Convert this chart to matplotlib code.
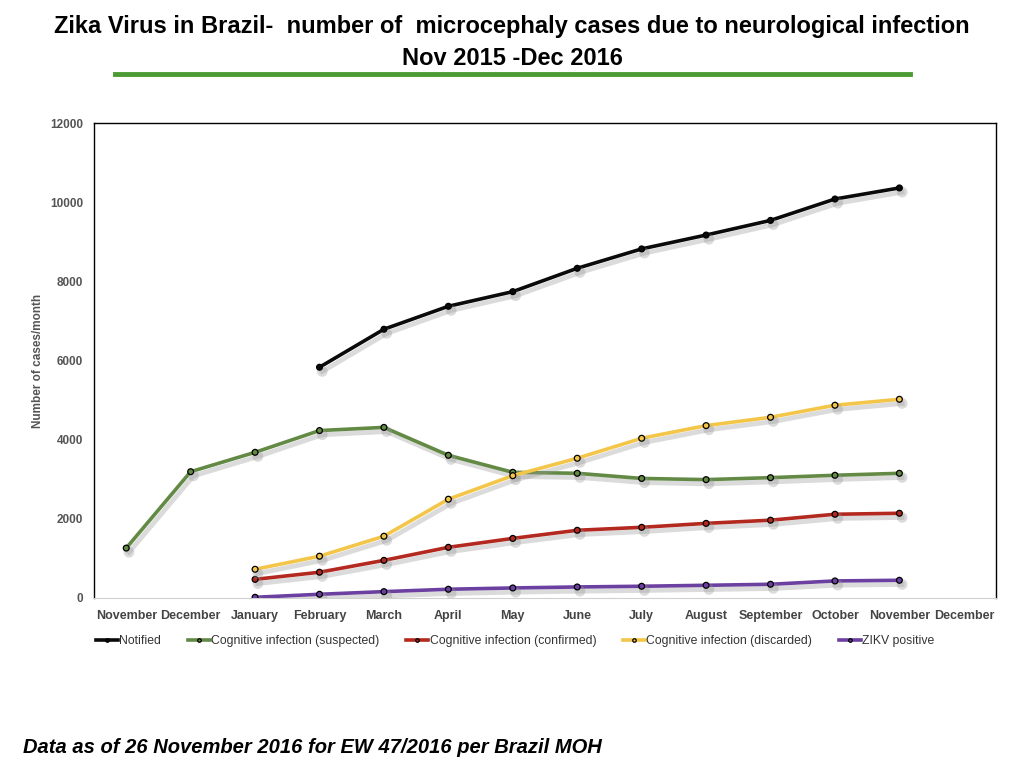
import matplotlib
matplotlib.use("Agg")
import matplotlib.pyplot as plt
import matplotlib.patheffects as pe
import numpy as np

months = ["November", "December", "January", "February", "March", "April", "May",
          "June", "July", "August", "September", "October", "November", "December"]

# values per month, None where the series has no point
notified = [None, None, None, 5830, 6790, 7370, 7740, 8330, 8820, 9170, 9540, 10080, 10360, None]
suspected = [1260, 3190, 3680, 4230, 4310, 3605, 3175, 3150, 3020, 2990, 3040, 3100, 3150, None]
confirmed = [None, None, 470, 650, 950, 1280, 1505, 1710, 1785, 1885, 1965, 2115, 2140, None]
discarded = [None, None, 725, 1055, 1560, 2495, 3090, 3530, 4035, 4355, 4565, 4870, 5020, None]
zikv = [None, None, 17, 93, 160, 220, 253, 278, 296, 320, 346, 430, 447, None]

series = [
    ("Notified", notified, "#0a0a0a"),
    ("Cognitive infection (suspected)", suspected, "#638a45"),
    ("Cognitive infection (confirmed)", confirmed, "#b3291f"),
    ("Cognitive infection (discarded)", discarded, "#f3c64a"),
    ("ZIKV positive", zikv, "#6b40a0"),
]

plt.rcParams["font.family"] = ["Liberation Sans", "DejaVu Sans"]

fig = plt.figure(figsize=(10.24, 7.68), dpi=100)
ax = fig.add_axes([0.0918, 0.2214, 0.8809, 0.6184])

x = np.arange(len(months))
shadow = [pe.SimpleLineShadow(offset=(2, -3), shadow_color="0.6", alpha=0.35, linewidth=3.5),
          pe.Normal()]
for name, vals, col in series:
    y = np.array([np.nan if v is None else v for v in vals], dtype=float)
    ax.plot(x, y, color=col, lw=2.6, marker="o", ms=4.2, mfc=col, mec="black",
            mew=0.9, label=name, path_effects=shadow, zorder=3)

ax.set_xlim(-0.5, 13.5)
ax.set_ylim(0, 12000)
ax.set_yticks(range(0, 12001, 2000))
ax.set_xticks(x)
ax.set_xticklabels(months)
for lab in ax.get_xticklabels():
    lab.set_fontsize(9)
    lab.set_color("#444444")
    lab.set_fontweight("bold")
for lab in ax.get_yticklabels():
    lab.set_fontsize(8.5)
    lab.set_color("#555555")
    lab.set_fontweight("bold")
ax.tick_params(length=0, pad=8)
ax.tick_params(axis="x", pad=9)
ax.set_ylabel("Number of cases/month", fontsize=8.5, color="#555555", labelpad=4,
              fontweight="bold")
for s in ["left", "top", "right"]:
    ax.spines[s].set_color("black")
    ax.spines[s].set_linewidth(1.0)
ax.spines["bottom"].set_color("#d0d0d0")

leg = ax.legend(loc="upper left", bbox_to_anchor=(-0.01, -0.055), ncol=5, frameon=False,
                fontsize=8.8, handlelength=1.8, handletextpad=0.1, columnspacing=2.2,
                markerscale=0.6)
for t in leg.get_texts():
    t.set_color("#333333")
for h in leg.get_lines():
    h.set_path_effects([])

fig.text(0.5, 0.965, "Zika Virus in Brazil-  number of  microcephaly cases due to neurological infection",
         ha="center", va="center", fontsize=17, fontweight="bold")
fig.text(0.5, 0.924, "Nov 2015 -Dec 2016", ha="center", va="center", fontsize=17, fontweight="bold")
fig.add_artist(plt.Line2D([0.112, 0.889], [0.903, 0.903], color="#4c9a33", lw=3.5,
                          transform=fig.transFigure))

fig.text(0.022, 0.027, "Data as of 26 November 2016 for EW 47/2016 per Brazil MOH",
         ha="left", va="center", fontsize=14.5, fontweight="bold", style="italic")

fig.savefig("out.png", dpi=100)
